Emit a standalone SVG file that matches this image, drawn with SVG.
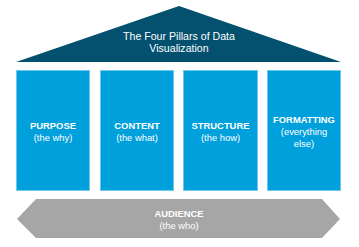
<svg xmlns="http://www.w3.org/2000/svg" width="359" height="247" viewBox="0 0 359 247">
<style>
.t{font-family:"Liberation Sans",Arial,sans-serif;fill:#fff;text-anchor:middle}
.h{font-size:9.4px;font-weight:bold}
.s{font-size:9.4px}
.pillar{fill:#00a0dc;stroke:#6cc6ea;stroke-width:0.8}
</style>
<rect width="359" height="247" fill="#fff"/>
<g id="roof">
<polygon points="179,6 341,62 16,62" fill="#03506f"/>
<text class="t" x="179" y="39.5" font-size="10.6">The Four Pillars of Data</text>
<text class="t" x="179" y="52" font-size="10.6">Visualization</text>
</g>
<g id="purpose">
<rect class="pillar" x="16.5" y="70.5" width="73" height="120"/>
<text class="t h" x="53" y="129">PURPOSE</text>
<text class="t s" x="53" y="140.5">(the why)</text>
</g>
<g id="content">
<rect class="pillar" x="100.5" y="70.5" width="73" height="120"/>
<text class="t h" x="137" y="129">CONTENT</text>
<text class="t s" x="137" y="140.5">(the what)</text>
</g>
<g id="structure">
<rect class="pillar" x="183.5" y="70.5" width="74" height="120"/>
<text class="t h" x="220.5" y="129">STRUCTURE</text>
<text class="t s" x="220.5" y="140.5">(the how)</text>
</g>
<g id="formatting">
<rect class="pillar" x="267.5" y="70.5" width="73" height="120"/>
<text class="t h" x="304" y="123">FORMATTING</text>
<text class="t s" x="304" y="135">(everything</text>
<text class="t s" x="304" y="146.5">else)</text>
</g>
<g id="audience">
<polygon points="17,219 36,199 322,199 340,219 322,238 36,238" fill="#a6a6a6"/>
<text class="t h" x="179" y="217">AUDIENCE</text>
<text class="t s" x="179" y="229">(the who)</text>
</g>
<g id="connectors"></g>
</svg>
